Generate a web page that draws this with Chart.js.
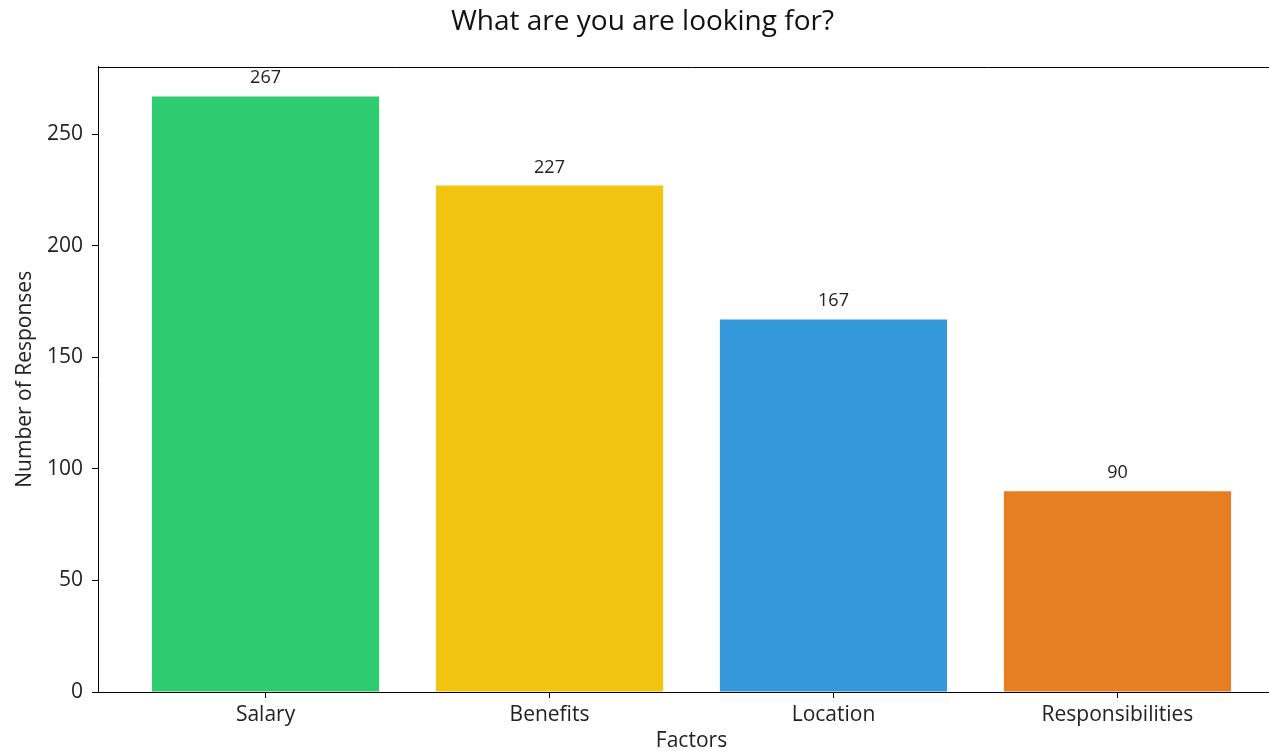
<!DOCTYPE html>
<html>
<head>
<meta charset="utf-8">
<script src="https://cdn.jsdelivr.net/npm/chart.js@4/dist/chart.umd.min.js"></script>
<style>
  html, body { margin: 0; padding: 0; background: #fff; overflow: hidden; }
  #wrap { width: 1383px; height: 751px; overflow: hidden; }
</style>
</head>
<body>
<div id="wrap"><canvas id="factorsChart" width="1383" height="754"></canvas></div>
<script>
// Survey data
const factors = ['Salary', 'Benefits', 'Location', 'Responsibilities'];
const responses = [267, 227, 167, 90];
const barColors = ['#2ecc71', '#f1c40f', '#3498db', '#e67e22'];
const yTicks = [0, 50, 100, 150, 200, 250];

const FONT = "'Open Sans', sans-serif";

// value labels above each bar
const valueLabels = {
    id: 'valueLabels',
    afterDatasetsDraw(chart) {
        const ctx = chart.ctx;
        const meta = chart.getDatasetMeta(0);
        ctx.save();
        ctx.font = '18px ' + FONT;
        ctx.fillStyle = '#222';
        ctx.textAlign = 'center';
        ctx.textBaseline = 'alphabetic';
        meta.data.forEach((bar, i) => {
            ctx.fillText(String(responses[i]), bar.x, bar.y - 13);
        });
        ctx.restore();
    }
};

// top and right spines
const frame = {
    id: 'frame',
    afterDraw(chart) {
        const a = chart.chartArea;
        const ctx = chart.ctx;
        const top = Math.round(a.top) + 0.5;
        ctx.save();
        ctx.strokeStyle = '#000';
        ctx.lineWidth = 1;
        ctx.beginPath();
        ctx.moveTo(a.left, top);
        ctx.lineTo(a.right, top);
        ctx.lineTo(a.right, a.bottom);
        ctx.stroke();
        ctx.restore();
    }
};

new Chart(document.getElementById('factorsChart'), {
    type: 'bar',
    data: {
        datasets: [{
            data: responses.map((v, i) => ({ x: i, y: v })),
            backgroundColor: barColors,
            borderWidth: 0,
            borderSkipped: false,
            barPercentage: 1,
            categoryPercentage: 0.8
        }]
    },
    options: {
        responsive: false,
        animation: false,
        devicePixelRatio: 1,
        layout: { padding: { left: 0, right: 98, top: 0, bottom: 0 } },
        plugins: {
            legend: { display: false },
            tooltip: { enabled: false },
            title: {
                display: true,
                text: 'What are you are looking for?',
                color: '#111',
                font: { family: FONT, size: 28, weight: 'normal' },
                padding: { top: 5, bottom: 28 }
            }
        },
        scales: {
            x: {
                type: 'linear',
                offset: false,
                min: -0.59,
                max: 3.59,
                afterBuildTicks: axis => { axis.ticks = factors.map((f, i) => ({ value: i })); },
                afterFit: axis => { axis.height = 62; },
                ticks: {
                    callback: v => factors[v],
                    color: '#222',
                    font: { family: FONT, size: 21 },
                    padding: 4,
                    maxRotation: 0
                },
                grid: { offset: false, drawOnChartArea: false, drawTicks: true, color: '#000', tickLength: 6 },
                border: { color: '#000', width: 1 },
                title: {
                    display: true,
                    text: 'Factors',
                    color: '#222',
                    font: { family: FONT, size: 21 },
                    padding: { top: 0, bottom: 0 }
                }
            },
            y: {
                min: 0,
                max: 280.35,
                afterBuildTicks: axis => { axis.ticks = yTicks.map(v => ({ value: v })); },
                afterFit: axis => { axis.width = 98; },
                ticks: {
                    color: '#222',
                    font: { family: FONT, size: 21 },
                    padding: 9
                },
                grid: { drawOnChartArea: false, color: '#000', tickLength: 6 },
                border: { color: '#000', width: 1 },
                title: {
                    display: true,
                    text: 'Number of Responses',
                    color: '#222',
                    font: { family: FONT, size: 21 },
                    padding: { top: 12, bottom: 0 }
                }
            }
        }
    },
    plugins: [valueLabels, frame]
});
</script>
</body>
</html>
